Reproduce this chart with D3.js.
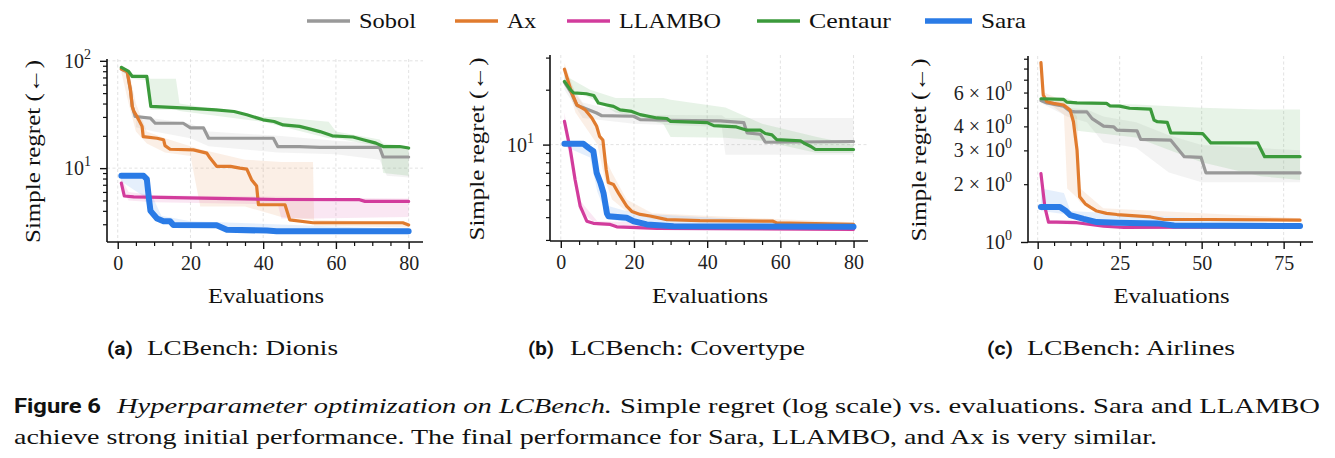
<!DOCTYPE html>
<html>
<head>
<meta charset="utf-8">
<script src="https://cdn.jsdelivr.net/npm/d3@7"></script>
<style>
  body { margin: 0; background: #fff; }
</style>
</head>
<body>
<svg id="fig" width="1335" height="458" font-family="Liberation Serif" fill="#111"></svg>
<script>
// series names and colours
const methods = ["Sobol", "Ax", "LLAMBO", "Centaur", "Sara"];
const colors = ["#999999", "#e07b2e", "#d23c9c", "#3b9a3b", "#2a7be6"];
const serif = "Liberation Serif";

// Dionis: [evaluation, regret]
const dionisSobol = [[1,84],[2.6,79],[3.5,53],[4,37.5],[4.8,30.3],[9,29.2],[10.3,26.2],[18,26.2],[20,23.7],[23.6,23.7],[25,19],[42.8,19],[44,15.9],[50,15.9],[55.6,15.6],[72,15.6],[73,12.7],[80,12.7]];
const dionisAx = [[1,84],[2.6,79.6],[3.5,53.7],[4,37.6],[4.4,34],[5.3,30.3],[6.7,24.5],[7,19.7],[10.8,19],[12.6,18.4],[13,16.2],[14.4,15],[20.8,14.8],[24.5,13.8],[25.4,12.4],[27.2,10.4],[31,10.4],[33.6,10],[35.5,9.8],[36.8,7.8],[38.2,6.8],[38.7,4.56],[46,4.56],[47.3,3.3],[53.7,3.1],[78.4,3.1],[80,2.96]];
const dionisLlambo = [[1,7.25],[1.8,5.5],[4.4,5.4],[43.7,5.1],[66.5,5.08],[68,4.9],[80,4.9]];
const dionisCentaur = [[1,87],[3,79.6],[4,71.5],[8,71.5],[9.1,37.6],[19,36.2],[27,34.9],[32,33.7],[35.5,31.4],[40,28.2],[43,27.2],[45.5,25.3],[50,24.5],[53,23.1],[55.6,21.9],[59,20],[64.7,19.5],[67.5,18.4],[71,17.1],[73,15.9],[77.5,15.9],[80,15.4]];
const dionisSara = [[1,8.5],[7.1,8.5],[8,7.9],[8.5,5.5],[9,4],[10.8,3.4],[12.6,3.2],[14.4,3.2],[15.3,2.95],[27.2,2.93],[30,2.66],[41,2.62],[43.7,2.58],[80,2.58]];

// Dionis bands: [evaluation, low, high]
const dionisSobolBand = [[5,24,32],[10,22,29],[20,19,26],[25,16,22],[44,14,20],[60,13.5,18],[72,12,17],[74,8.5,16],[80,8.2,15.5]];
const dionisAxBand = [[1,78,90],[3,40,82],[5,22,40],[8,17,22],[13,14,19],[20,13,16],[22.7,4.4,15],[35,4.4,12],[45,3.5,11.4],[53.7,3.3,11.4],[54,2.9,3.3],[80,2.8,3.1]];
const dionisLlamboBand = [[1,6.5,8],[3,5,6],[10,4.8,5.6],[44,4.6,5.4],[45,3.4,5.4],[54,3.4,5.3],[80,3.5,5.2]];
const dionisCentaurBand = [[1,80,92],[4,68,75],[8,66,72],[9,35,68],[16,35,68],[17,34,40],[40,27,30],[44,25,30],[58,19,27],[60,19,22],[72,16,18.5],[73,9,17],[80,8.5,16]];
const dionisSaraBand = [[1,7.5,9],[7,5.5,9],[9,3.8,6],[12,3.1,3.6],[20,2.8,3.2],[80,2.5,2.7]];

// Covertype
const coverSobol = [[1,22],[3,19],[4.4,16.4],[6.2,15.9],[9.8,14.9],[11.2,14.4],[19.9,14.3],[21.7,13.7],[29,13.6],[43.6,13.5],[50,13.2],[50.9,11.6],[54.5,11.4],[55.9,10.3],[80,10.4]];
const coverAx = [[1,25.9],[3,19.2],[4.4,16.5],[6.7,15.5],[8.5,14],[9.8,12.6],[10.6,11.1],[11.5,10.6],[12.4,7.3],[13,6.2],[14.4,6.04],[15.8,5.4],[18,4.6],[19.4,4.3],[21.7,4.14],[24.4,4.06],[29,3.88],[38,3.83],[58,3.8],[59,3.72],[80,3.65]];
const coverLlambo = [[1,13.4],[2.6,9.4],[3.9,6.44],[5.3,4.6],[7.1,3.8],[8.9,3.7],[13.5,3.65],[15.3,3.54],[26.3,3.47],[80,3.43]];
const coverCentaur = [[1,22.2],[2.6,20],[3.5,19.2],[7,19],[9,18.6],[10.3,16.9],[12.6,16.5],[14.4,16.2],[16.2,15.5],[19.4,15.2],[21.7,14.6],[26.3,14],[29,13.9],[30,13.4],[40,13.2],[41.8,12.7],[48,12.5],[50.9,12],[54.5,12],[55.9,11.5],[57.7,11.3],[59,10.65],[65.5,10.5],[66.4,10.2],[68.2,9.8],[69.6,9.4],[80,9.4]];
const coverSara = [[1,10.1],[6.2,10.1],[7.6,9.6],[8.9,9.2],[9.8,7],[10.8,6.2],[11.7,5.4],[12.6,4.2],[13,4.05],[18,3.97],[19.9,3.8],[23.5,3.65],[30.8,3.57],[80,3.54]];

const coverSobolBand = [[1,20,24],[6,14,17],[20,13,14.6],[44,12.5,14.5],[45,8.8,14],[80,8.8,14]];
const coverAxBand = [[1,24,28],[4,15,19],[10,10,13],[12,6.5,8.5],[14,5,7],[18,4.3,5],[25,3.9,4.2],[60,3.7,3.9],[80,3.55,3.75]];
const coverLlamboBand = [[1,12,15],[5,4.4,5],[10,3.6,3.8],[80,3.35,3.5]];
const coverCentaurBand = [[1,21,24],[8,18,20],[15,15,18],[28,13,18],[30,11,17.6],[45,10.9,16],[55,10.5,13],[70,9,11],[80,9,10]];
const coverSaraBand = [[1,9.8,10.4],[8,8.5,9.8],[10,5.5,7.5],[13,3.9,4.6],[20,3.7,4.2],[80,3.45,3.6]];

// Airlines
const airSobol = [[1,5.45],[2.8,5.3],[7.9,5.1],[9.9,4.8],[11.4,4.76],[15,4.76],[16.6,4.39],[20.1,4.01],[23.2,3.98],[24.2,3.82],[30.3,3.79],[31.4,3.42],[40.6,3.39],[44.7,2.78],[49.8,2.76],[51.3,2.29],[80,2.29]];
const airAx = [[1,8.59],[1.7,5.82],[2.8,5.37],[4.8,5.27],[7.9,5.17],[9.9,4.86],[10.9,4.23],[12,3.01],[12.8,1.72],[14.5,1.58],[16,1.52],[18,1.45],[21,1.41],[24.2,1.39],[34.4,1.35],[38.5,1.31],[51.8,1.31],[80,1.3]];
const airLlambo = [[1,2.27],[2.2,1.52],[3.3,1.27],[5.8,1.27],[12,1.26],[20.1,1.21],[26.3,1.19],[80,1.2]];
const airCentaur = [[1,5.57],[7.9,5.53],[8.9,5.35],[12,5.3],[21,5.27],[22,5.12],[25,5.1],[28,4.97],[34.4,4.92],[35.5,4.31],[36.5,4.23],[39.5,4.2],[40.6,3.7],[50.3,3.67],[52.8,3.28],[67.1,3.28],[69.2,2.78],[80,2.78]];
const airSara = [[1,1.52],[6.8,1.52],[8.4,1.46],[9.9,1.38],[14,1.32],[18,1.27],[24.2,1.26],[36.5,1.25],[41.6,1.22],[80,1.21]];

const airSobolBand = [[1,5.3,5.8],[9,4.5,5],[15,4.2,4.9],[20,3.3,4.5],[30,3.1,4.2],[40,2.3,3.6],[50,2.05,3.2],[80,2.05,3]];
const airAxBand = [[1,8,9],[2,5.5,6],[8,4.6,5.4],[9,1.9,5.2],[12,1.7,4.5],[13,1.6,1.9],[20,1.4,1.5],[80,1.27,1.33]];
const airLlamboBand = [[1,2.1,2.4],[3,1.24,1.3],[80,1.17,1.22]];
const airCentaurBand = [[1,5.4,5.7],[9,5.2,5.6],[12,3.8,5.3],[30,3.5,5.2],[50,2.6,5],[68,2.2,4.9],[80,2.1,4.9]];
const airSaraBand = [[1,1.45,1.9],[8,1.4,1.8],[10,1.33,1.45],[80,1.17,1.24]];

// tick values
const dionisYMajor = [10, 100];
const coverYMajor = [10];
const airYMajor = [1];
const airYLabelled = [2, 3, 4, 6];
const xMajorA = [0, 20, 40, 60, 80];
const xMajorC = [0, 25, 50, 75];

const svg = d3.select("#fig");
svg.append("rect").attr("width", 1335).attr("height", 458).attr("fill", "#fff");

const panels = [
  { left: 107, right: 423, top: 59, bottom: 242, yDomain: [2.05, 104], yMajor: dionisYMajor, yLab: [], xMajor: xMajorA,
    lines: [dionisSobol, dionisAx, dionisLlambo, dionisCentaur, dionisSara],
    bands: [dionisSobolBand, dionisAxBand, dionisLlamboBand, dionisCentaurBand, dionisSaraBand],
    tag: "(a)", name: "LCBench: Dionis", tagX: 107, nameX: 147, nameW: 191, ylx: 33 },
  { left: 550, right: 868, top: 55, bottom: 241, yDomain: [2.96, 31], yMajor: coverYMajor, yLab: [], xMajor: xMajorA,
    lines: [coverSobol, coverAx, coverLlambo, coverCentaur, coverSara],
    bands: [coverSobolBand, coverAxBand, coverLlamboBand, coverCentaurBand, coverSaraBand],
    tag: "(b)", name: "LCBench: Covertype", tagX: 528, nameX: 570, nameW: 235, ylx: 477 },
  { left: 1028, right: 1313, top: 56, bottom: 242, yDomain: [1, 9.3], yMajor: airYMajor, yLab: airYLabelled, xMajor: xMajorC,
    lines: [airSobol, airAx, airLlambo, airCentaur, airSara],
    bands: [airSobolBand, airAxBand, airLlamboBand, airCentaurBand, airSaraBand],
    tag: "(c)", name: "LCBench: Airlines", tagX: 987, nameX: 1027, nameW: 208, ylx: 919 }
];

panels.forEach(p => {
  const x = d3.scaleLinear().domain([-2.95, 83.95]).range([p.left, p.right]);
  const y = d3.scaleLog().domain(p.yDomain).range([p.bottom, p.top]);
  const g = svg.append("g");

  // grid
  g.selectAll(".gx").data(p.xMajor).enter().append("line")
    .attr("x1", d => x(d)).attr("x2", d => x(d))
    .attr("y1", p.top).attr("y2", p.bottom)
    .attr("stroke", "#dadada").attr("stroke-width", 0.8).attr("stroke-dasharray", "3,2.5");
  g.selectAll(".gy").data(p.yMajor.filter(v => y(v) < p.bottom - 1)).enter().append("line")
    .attr("x1", p.left).attr("x2", p.right)
    .attr("y1", d => y(d)).attr("y2", d => y(d))
    .attr("stroke", "#dadada").attr("stroke-width", 0.8).attr("stroke-dasharray", "3,2.5");

  // bands
  const area = d3.area().x(d => x(d[0])).y0(d => y(d[1])).y1(d => y(d[2]));
  p.bands.forEach((b, i) => {
    g.append("path").attr("d", area(b)).attr("fill", colors[i]).attr("fill-opacity", 0.12);
  });

  // lines
  const line = d3.line().x(d => x(d[0])).y(d => y(d[1]));
  p.lines.forEach((l, i) => {
    g.append("path").attr("d", line(l)).attr("fill", "none")
      .attr("stroke", colors[i]).attr("stroke-width", i === 4 ? 6 : 3.2)
      .attr("stroke-linejoin", "round").attr("stroke-linecap", "round");
  });

  // x axis
  const xMinor = d3.range(0, 81, 5).filter(v => !p.xMajor.includes(v));
  g.append("g").attr("transform", `translate(0,${p.bottom})`)
    .call(d3.axisBottom(x).tickValues(xMinor).tickSize(4).tickFormat(""))
    .call(a => a.select(".domain").remove())
    .call(a => a.selectAll("line").attr("stroke", "#111").attr("stroke-width", 1.2));
  g.append("g").attr("transform", `translate(0,${p.bottom})`)
    .call(d3.axisBottom(x).tickValues(p.xMajor).tickSize(7).tickPadding(7))
    .call(a => a.select(".domain").attr("d", `M${p.left},0H${p.right}`).attr("stroke", "#111").attr("stroke-width", 1.6))
    .call(a => a.selectAll("line").attr("stroke", "#111").attr("stroke-width", 1.4))
    .call(a => a.selectAll("text").attr("font-family", serif).attr("font-size", 20).attr("fill", "#222"));

  // y axis
  const [lo, hi] = p.yDomain;
  const minor = [];
  for (let e = Math.floor(Math.log10(lo)); e <= Math.ceil(Math.log10(hi)); e++) {
    for (let k = 2; k <= 9; k++) {
      const v = k * Math.pow(10, e);
      if (v >= lo && v <= hi) minor.push(v);
    }
  }
  g.append("g").attr("transform", `translate(${p.left},0)`)
    .call(d3.axisLeft(y).tickValues(minor).tickSize(4).tickFormat(""))
    .call(a => a.select(".domain").remove())
    .call(a => a.selectAll("line").attr("stroke", "#111").attr("stroke-width", 1.2));
  g.append("g").attr("transform", `translate(${p.left},0)`)
    .call(d3.axisLeft(y).tickValues(p.yMajor).tickSize(7).tickFormat(""))
    .call(a => a.select(".domain").attr("d", `M0,${p.top}V${p.bottom}`).attr("stroke", "#111").attr("stroke-width", 1.6))
    .call(a => a.selectAll("line").attr("stroke", "#111").attr("stroke-width", 1.4));

  const labs = p.yMajor.map(v => ({ v, m: null })).concat(p.yLab.map(v => ({ v, m: v })));
  labs.forEach(d => {
    const e = Math.round(Math.log10(d.v));
    const t = g.append("text").attr("x", p.left - 16).attr("y", y(d.v) + 7)
      .attr("text-anchor", "end").attr("font-family", serif).attr("font-size", 20).attr("fill", "#222");
    t.append("tspan").text(d.m ? `${d.m} \u00d7 10` : "10");
    t.append("tspan").attr("dy", -9).attr("font-size", 14).text(String(d.m ? 0 : e));
  });

  // axis titles
  svg.append("text").attr("x", (p.left + p.right) / 2 + 1).attr("y", 303)
    .attr("text-anchor", "middle").attr("font-family", serif).attr("font-size", 21.5)
    .attr("textLength", 116).attr("lengthAdjust", "spacingAndGlyphs").text("Evaluations");
  svg.append("text").attr("transform", `translate(${p.ylx + 7},${(p.top + p.bottom) / 2 + 1}) rotate(-90)`)
    .attr("text-anchor", "middle").attr("font-family", serif).attr("font-size", 21.5)
    .attr("textLength", 183).attr("lengthAdjust", "spacingAndGlyphs").text("Simple regret (\u2190)");

  // sub-captions
  svg.append("text").attr("x", p.tagX).attr("y", 355)
    .attr("font-family", "Roboto").attr("font-weight", 700).attr("font-size", 19)
    .attr("textLength", 26).attr("lengthAdjust", "spacingAndGlyphs").text(p.tag);
  svg.append("text").attr("x", p.nameX).attr("y", 355).attr("font-family", serif).attr("font-size", 21.5)
    .attr("textLength", p.nameW).attr("lengthAdjust", "spacingAndGlyphs").text(p.name);
});

// legend
const legendLineX = [307, 455, 567, 757, 925];
const legendTextW = [57, 29, 102, 82, 45];
const lg = svg.append("g");
methods.forEach((m, i) => {
  const len = i === 4 ? 47 : 43;
  lg.append("line").attr("x1", legendLineX[i]).attr("x2", legendLineX[i] + len)
    .attr("y1", 21).attr("y2", 21).attr("stroke", colors[i]).attr("stroke-width", i === 4 ? 5.5 : 3.5);
  lg.append("text").attr("x", legendLineX[i] + len + 9).attr("y", 28).attr("font-family", serif).attr("font-size", 21.5)
    .attr("textLength", legendTextW[i]).attr("lengthAdjust", "spacingAndGlyphs").text(m);
});

// figure caption
const cap1 = svg.append("text").attr("y", 413).attr("font-family", serif).attr("font-size", 21);
cap1.append("tspan").attr("x", 14).attr("font-family", "Roboto").attr("font-weight", 700)
  .attr("textLength", 87).attr("lengthAdjust", "spacingAndGlyphs").text("Figure 6");
cap1.append("tspan").attr("x", 117).attr("font-style", "italic")
  .attr("textLength", 495).attr("lengthAdjust", "spacingAndGlyphs").text("Hyperparameter optimization on LCBench.");
cap1.append("tspan").attr("x", 620)
  .attr("textLength", 700).attr("lengthAdjust", "spacingAndGlyphs").text("Simple regret (log scale) vs. evaluations. Sara and LLAMBO");
svg.append("text").attr("x", 14).attr("y", 444).attr("font-family", serif).attr("font-size", 21)
  .attr("textLength", 1143).attr("lengthAdjust", "spacingAndGlyphs")
  .text("achieve strong initial performance. The final performance for Sara, LLAMBO, and Ax is very similar.");
</script>
</body>
</html>
